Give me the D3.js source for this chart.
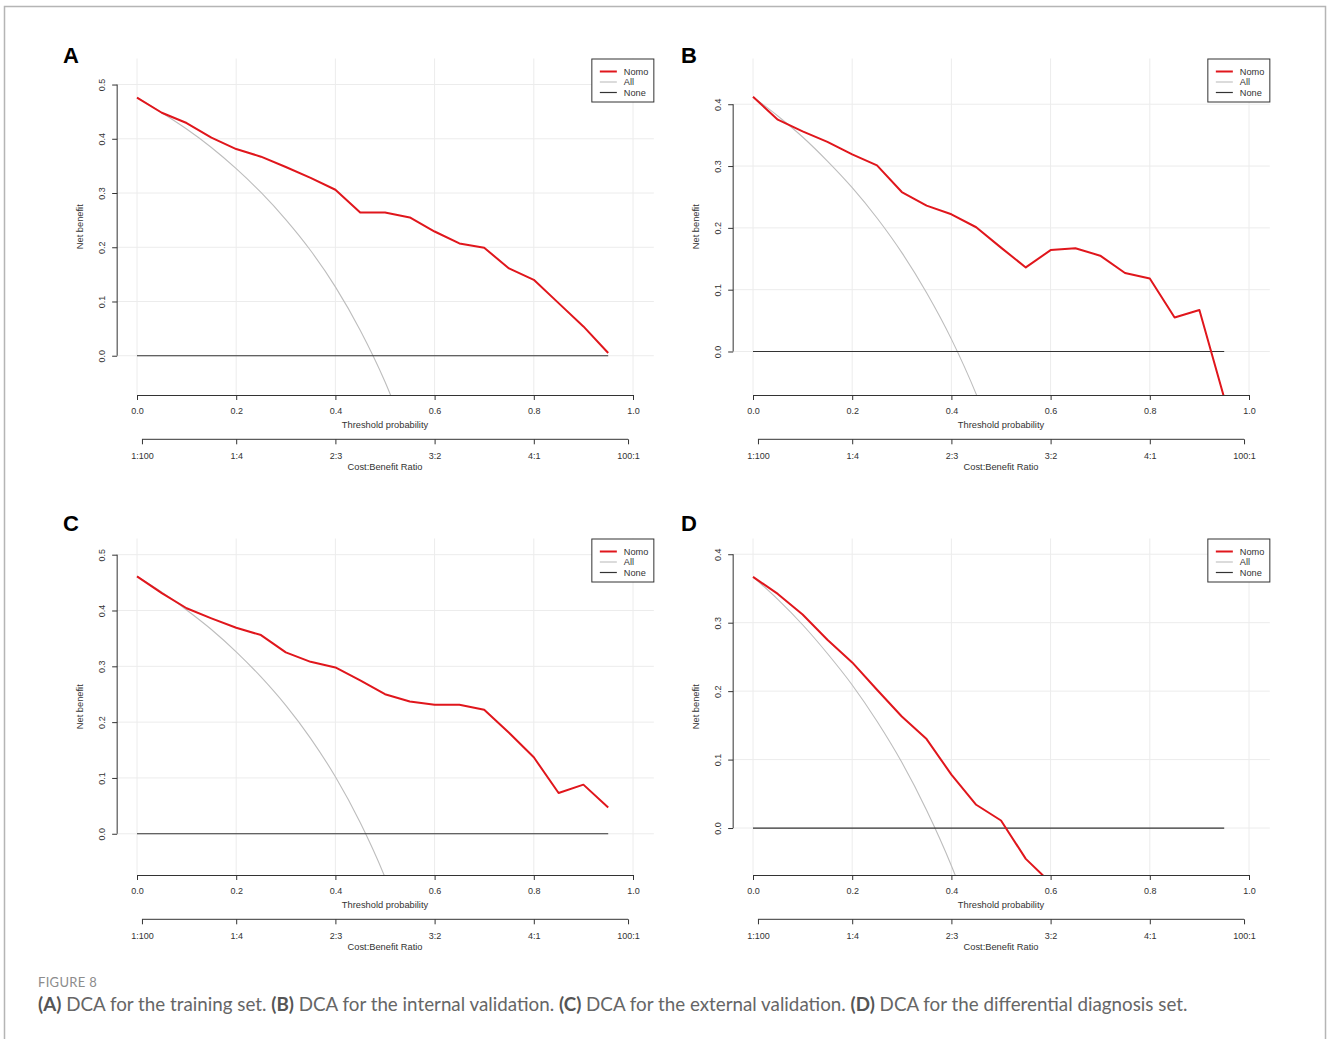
<!DOCTYPE html>
<html>
<head>
<meta charset="utf-8">
<title>Decision curve analysis</title>
<script src="https://cdn.jsdelivr.net/npm/d3@7"></script>
<style>
  body { margin: 0; background: #fff; }
  svg { display: block; }
</style>
</head>
<body>
<svg id="fig" width="1328" height="1039"></svg>
<script>
// Threshold probabilities at which the net benefit curves were evaluated
const thresholds = [0.00, 0.05, 0.10, 0.15, 0.20, 0.25, 0.30, 0.35, 0.40, 0.45,
                    0.50, 0.55, 0.60, 0.65, 0.70, 0.75, 0.80, 0.85, 0.90, 0.95];

// Net benefit of the nomogram ("Nomo") per panel
const nomoA = [0.476, 0.448, 0.429, 0.402, 0.381, 0.367, 0.348, 0.328, 0.306, 0.264,
               0.264, 0.255, 0.229, 0.207, 0.199, 0.161, 0.140, 0.097, 0.054, 0.005];
const nomoB = [0.412, 0.375, 0.356, 0.339, 0.319, 0.301, 0.258, 0.236, 0.222, 0.201,
               0.168, 0.136, 0.164, 0.167, 0.155, 0.127, 0.118, 0.055, 0.067, -0.075];
const nomoC = [0.461, 0.431, 0.404, 0.386, 0.369, 0.356, 0.325, 0.308, 0.298, 0.275,
               0.250, 0.237, 0.231, 0.231, 0.222, 0.181, 0.137, 0.073, 0.088, 0.047];
const nomoD = [0.367, 0.342, 0.312, 0.275, 0.242, 0.202, 0.163, 0.130, 0.078, 0.034,
               0.011, -0.045, -0.080];

// Net benefit of treating everyone ("All") per panel, same thresholds
const allA = [0.476, 0.448, 0.418, 0.384, 0.345, 0.301, 0.251, 0.194, 0.127, 0.047, -0.048, -0.164];
const allB = [0.412, 0.381, 0.347, 0.308, 0.265, 0.216, 0.160, 0.095, 0.020, -0.069, -0.176];
const allC = [0.461, 0.433, 0.401, 0.366, 0.326, 0.281, 0.230, 0.171, 0.102, 0.020, -0.078, -0.198];
const allD = [0.367, 0.334, 0.297, 0.255, 0.209, 0.156, 0.096, 0.026, -0.055, -0.151];

// Treating no one ("None") has zero net benefit over the threshold range
const noneThresholds = [0.00, 0.95];
const noneNB = [0, 0];

// Axis ticks and labels
const xTicks = [0.0, 0.2, 0.4, 0.6, 0.8, 1.0];
const yTicksAC = [0.0, 0.1, 0.2, 0.3, 0.4, 0.5];
const yTicksBD = [0.0, 0.1, 0.2, 0.3, 0.4];
const ratioTicks = [0.01, 0.2, 0.4, 0.6, 0.8, 0.99];
const ratioLabels = ["1:100", "1:4", "2:3", "3:2", "4:1", "100:1"];

const legendNames = ["Nomo", "All", "None"];
const panelLetters = ["A", "B", "C", "D"];

const captionHead = "FIGURE 8";
const captionParts = [
  { bold: "(A)", text: " DCA for the training set. " },
  { bold: "(B)", text: " DCA for the internal validation. " },
  { bold: "(C)", text: " DCA for the external validation. " },
  { bold: "(D)", text: " DCA for the differential diagnosis set." }
];

// ---------------------------------------------------------------------------
const FONT = "'Liberation Sans', Arial, Helvetica, sans-serif";
const RED = "#e0161c", GREY = "#bdbdbd", DARK = "#333333", GRID = "#ececec";
const svg = d3.select("#fig");

// Outer frame of the figure
svg.append("rect")
  .attr("x", 4.5).attr("y", 6.5).attr("width", 1321).attr("height", 1100)
  .attr("fill", "none").attr("stroke", "#b5b5b5").attr("stroke-width", 1.5);

// Geometry of one panel (top-left); others are shifted copies
const frame = { x0: 137, x1: 633, top: 58.5, bottom: 395 };

const panels = [
  { letter: panelLetters[0], nomo: nomoA, all: allA, yTicks: yTicksAC, yDomain: [-0.0724, 0.548], dx: 0,   dy: 0,   letterX: 71,  letterY: 63 },
  { letter: panelLetters[1], nomo: nomoB, all: allB, yTicks: yTicksBD, yDomain: [-0.0704, 0.474], dx: 616, dy: 0,   letterX: 73,  letterY: 63 },
  { letter: panelLetters[2], nomo: nomoC, all: allC, yTicks: yTicksAC, yDomain: [-0.0739, 0.529], dx: 0,   dy: 480, letterX: 71,  letterY: 51 },
  { letter: panelLetters[3], nomo: nomoD, all: allD, yTicks: yTicksBD, yDomain: [-0.0686, 0.423], dx: 616, dy: 480, letterX: 73,  letterY: 51 }
];

const fmt = d3.format(".1f");

function styleAxis(sel) {
  sel.selectAll("path, line").attr("stroke", DARK).attr("stroke-width", 1);
  sel.selectAll("text").attr("fill", DARK).attr("font-family", FONT).attr("font-size", 9);
}

panels.forEach(p => {
  const g = svg.append("g").attr("transform", `translate(${p.dx},${p.dy})`);
  const x = d3.scaleLinear().domain([0, 1]).range([frame.x0, frame.x1]);
  const y = d3.scaleLinear().domain(p.yDomain).range([frame.bottom, frame.top]);
  const left = x(-0.04), right = x(1.04);

  // grid
  g.append("g").selectAll("line").data(xTicks).join("line")
    .attr("x1", d => x(d)).attr("x2", d => x(d))
    .attr("y1", frame.top).attr("y2", frame.bottom)
    .attr("stroke", GRID).attr("stroke-width", 1);
  g.append("g").selectAll("line").data(p.yTicks).join("line")
    .attr("x1", left).attr("x2", right + 1)
    .attr("y1", d => y(d)).attr("y2", d => y(d))
    .attr("stroke", GRID).attr("stroke-width", 1);

  // clipped plotting region
  const clipId = "clip-" + p.letter;
  g.append("clipPath").attr("id", clipId)
    .append("rect").attr("x", left).attr("y", frame.top)
    .attr("width", right - left).attr("height", frame.bottom - frame.top);
  const plot = g.append("g").attr("clip-path", `url(#${clipId})`);

  const allLine = d3.line().x((d, i) => x(thresholds[i])).y(d => y(d)).curve(d3.curveMonotoneX);
  const nomoLine = d3.line().x((d, i) => x(thresholds[i])).y(d => y(d));
  const noneLine = d3.line().x((d, i) => x(noneThresholds[i])).y(d => y(d));

  plot.append("path").datum(p.all).attr("d", allLine)
    .attr("fill", "none").attr("stroke", GREY).attr("stroke-width", 1.1);
  plot.append("path").datum(noneNB).attr("d", noneLine)
    .attr("fill", "none").attr("stroke", DARK).attr("stroke-width", 1.2);
  plot.append("path").datum(p.nomo).attr("d", nomoLine)
    .attr("fill", "none").attr("stroke", RED).attr("stroke-width", 2)
    .attr("stroke-linejoin", "round");

  // x axis: threshold probability
  g.append("g").attr("transform", `translate(0,${frame.bottom})`)
    .call(d3.axisBottom(x).tickValues(xTicks).tickFormat(fmt).tickSize(5).tickSizeOuter(0).tickPadding(8))
    .call(styleAxis);
  g.append("text").attr("x", (left + right) / 2).attr("y", 424.5).attr("dy", "0.35em")
    .attr("text-anchor", "middle").attr("font-family", FONT).attr("font-size", 9.3)
    .attr("fill", DARK).text("Threshold probability");

  // second x axis: cost:benefit ratio
  const ratioY = 439.3;
  const ra = g.append("g").attr("transform", `translate(0,${ratioY})`)
    .call(d3.axisBottom(x).tickValues(ratioTicks).tickFormat((d, i) => ratioLabels[i])
      .tickSize(5).tickSizeOuter(0).tickPadding(8))
    .call(styleAxis);
  ra.select(".domain").remove();
  ra.append("line").attr("x1", x(ratioTicks[0])).attr("x2", x(ratioTicks[ratioTicks.length - 1]))
    .attr("stroke", DARK).attr("stroke-width", 1);
  g.append("text").attr("x", (left + right) / 2).attr("y", 466.7).attr("dy", "0.35em")
    .attr("text-anchor", "middle").attr("font-family", FONT).attr("font-size", 9.3)
    .attr("fill", DARK).text("Cost:Benefit Ratio");

  // y axis: net benefit (labels parallel to the axis)
  const ya = g.append("g").attr("transform", `translate(${left},0)`)
    .call(d3.axisLeft(y).tickValues(p.yTicks).tickFormat(fmt).tickSize(5))
    .call(styleAxis);
  ya.select(".domain").remove();
  ya.append("line").attr("y1", y(p.yTicks[0])).attr("y2", y(p.yTicks[p.yTicks.length - 1]))
    .attr("stroke", DARK).attr("stroke-width", 1);
  ya.selectAll(".tick text")
    .attr("x", null).attr("dy", "0.35em").attr("text-anchor", "middle")
    .attr("transform", "translate(-15.5,0) rotate(-90)");
  g.append("text").attr("transform", `translate(80,${(frame.top + frame.bottom) / 2}) rotate(-90)`)
    .attr("dy", "0.35em").attr("text-anchor", "middle").attr("font-family", FONT)
    .attr("font-size", 9.3).attr("fill", DARK).text("Net benefit");

  // legend
  const lw = 62, lh = 43;
  const lg = g.append("g").attr("transform", `translate(${right + 1 - lw},${frame.top + 0.5})`);
  lg.append("rect").attr("width", lw).attr("height", lh)
    .attr("fill", "#fff").attr("stroke", DARK).attr("stroke-width", 1);
  const legendStyles = [
    { color: RED, w: 2 }, { color: GREY, w: 1.1 }, { color: DARK, w: 1.2 }
  ];
  legendNames.forEach((name, i) => {
    const ly = 12.5 + i * 10.5;
    lg.append("line").attr("x1", 8).attr("x2", 25).attr("y1", ly).attr("y2", ly)
      .attr("stroke", legendStyles[i].color).attr("stroke-width", legendStyles[i].w);
    lg.append("text").attr("x", 32).attr("y", ly).attr("dy", "0.35em")
      .attr("font-family", FONT).attr("font-size", 9.2).attr("fill", DARK).text(name);
  });

  // panel letter
  g.append("text").attr("x", p.letterX).attr("y", p.letterY).attr("text-anchor", "middle")
    .attr("font-family", FONT).attr("font-weight", "bold").attr("font-size", 22)
    .attr("fill", "#000").text(p.letter);
});

// caption
const CAP_FONT = "Lato, 'Open Sans', 'Noto Sans', sans-serif";
svg.append("text").attr("x", 38).attr("y", 987)
  .attr("font-family", CAP_FONT).attr("font-size", 13).attr("fill", "#8c8c8c")
  .attr("letter-spacing", 0.3).text(captionHead);

const cap = svg.append("text").attr("x", 38).attr("y", 1011)
  .attr("font-family", CAP_FONT).attr("font-size", 17).attr("fill", "#666666");
captionParts.forEach(part => {
  cap.append("tspan").attr("font-weight", "bold").attr("fill", "#555555").text(part.bold);
  cap.append("tspan").text(part.text);
});
// fit caption line to the text block width
const capTarget = 1150;
const capLen = cap.node().getComputedTextLength();
if (capLen > 0) cap.attr("font-size", 17 * capTarget / capLen);
</script>
</body>
</html>
